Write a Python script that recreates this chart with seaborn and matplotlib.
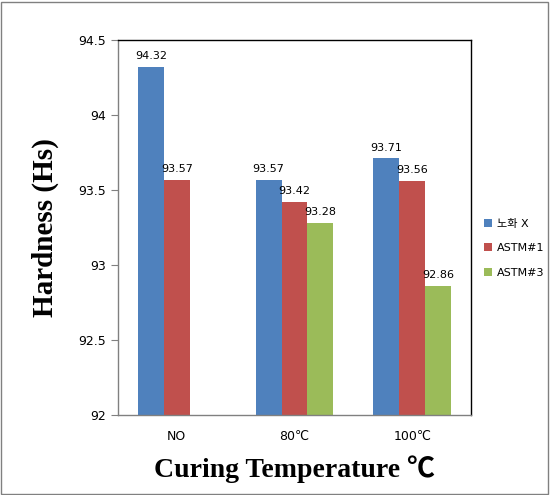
import pandas as pd
import matplotlib.pyplot as plt
import seaborn as sns
from matplotlib.patches import Rectangle

categories = ["NO", "80℃", "100℃"]
series = ["노화 X", "ASTM#1", "ASTM#3"]
aged_x = [94.32, 93.57, 93.71]
astm1 = [93.57, 93.42, 93.56]
astm3 = [None, 93.28, 92.86]
colors = ["#4F81BD", "#C0504D", "#9BBB59"]

sns.set_style("white")
plt.rcParams["font.family"] = ["DejaVu Sans", "Noto Sans CJK KR"]
plt.rcParams["text.color"] = "black"
plt.rcParams["xtick.color"] = "black"
plt.rcParams["ytick.color"] = "black"
plt.rcParams["axes.labelcolor"] = "black"

rows = []
for name, vals in zip(series, [aged_x, astm1, astm3]):
    for cat, v in zip(categories, vals):
        rows.append({"cat": cat, "series": name, "value": v})
df = pd.DataFrame(rows)

fig = plt.figure(figsize=(5.5, 4.95), dpi=100)
ax = fig.add_axes([0.2145, 0.1616, 0.6418, 0.7576])

sns.barplot(data=df, x="cat", y="value", hue="series", order=categories,
            hue_order=series, palette=colors, width=0.66, ax=ax,
            saturation=1, errorbar=None, linewidth=0, edgecolor="none")

ax.set_ylim(92, 94.5)
ax.set_yticks([92, 92.5, 93, 93.5, 94, 94.5])
ax.set_yticklabels(["92", "92.5", "93", "93.5", "94", "94.5"], fontsize=9)
ax.set_xlim(-0.5, 2.5)
ax.tick_params(axis="x", length=0, labelsize=9, pad=11)
ax.set_xticks([-0.5, 0.5, 1.5, 2.5], minor=True)
ax.tick_params(axis="x", which="minor", length=5, color="#808080", direction="out")
ax.tick_params(axis="y", length=5, color="#808080", direction="out", left=True)

for side in ["left", "bottom"]:
    ax.spines[side].set_color("#808080")
for side in ["top", "right"]:
    ax.spines[side].set_color("black")
for s in ax.spines.values():
    s.set_linewidth(1)

for cont in ax.containers:
    labels = ["" if pd.isna(v) else f"{v:.2f}" for v in cont.datavalues]
    ax.bar_label(cont, labels=labels, fontsize=8, padding=4)

serif = ["Liberation Serif", "Noto Sans CJK KR"]
ax.set_ylabel("Hardness (Hs)", fontsize=21, fontweight="bold", family=serif, labelpad=14)
ax.set_xlabel("Curing Temperature ℃", fontsize=20, fontweight="bold", family=serif, labelpad=9)

ax.legend(loc="center left", bbox_to_anchor=(1.01, 0.445), frameon=False,
          fontsize=8, handlelength=0.7, handleheight=0.7, handletextpad=0.4,
          labelspacing=1.3)

fig.patches.append(Rectangle((0.002, 0.002), 0.994, 0.994, transform=fig.transFigure,
                             fill=False, edgecolor="#808080", linewidth=1))

fig.savefig("out.png", dpi=100)
